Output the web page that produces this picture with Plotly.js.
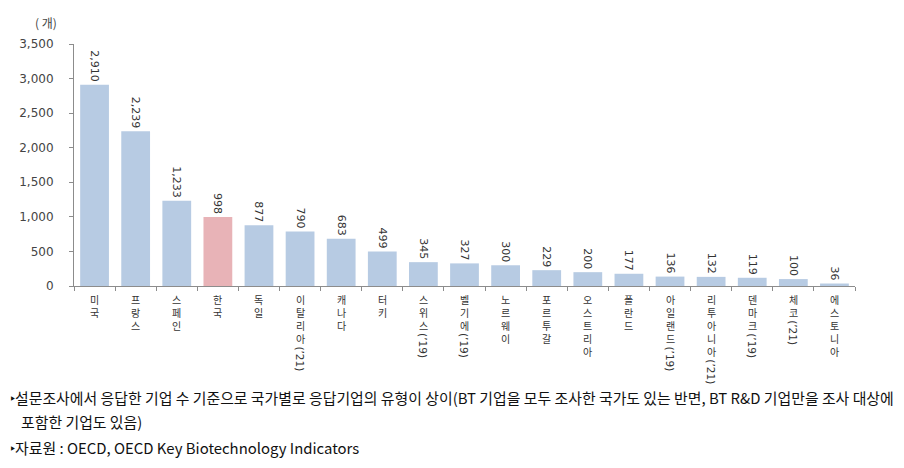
<!DOCTYPE html>
<html><head><meta charset="utf-8">
<script src="https://cdn.plot.ly/plotly-3.0.1.min.js"></script>
<style>html,body{margin:0;padding:0;background:#fff}#chart{width:904px;height:468px}</style>
</head><body><div id="chart"></div>
<script>
const countries = ['미국','프랑스','스페인','한국','독일','이탈리아','캐나다','터키','스위스','벨기에','노르웨이','포르투갈','오스트리아','폴란드','아일랜드','리투아니아','덴마크','체코','에스토니아'];
const yearNotes = ['','','','','','(’21)','','','(’19)','(’19)','','','','','(’19)','(’21)','(’19)','(’21)',''];
const values = [2910,2239,1233,998,877,790,683,499,345,327,300,229,200,177,136,132,119,100,36];
const highlight = '한국';
const yTickVals = [0,500,1000,1500,2000,2500,3000,3500];
const unitLabel = '( 개)';
const noteLine1 = '‣설문조사에서 응답한 기업 수 기준으로 국가별로 응답기업의 유형이 상이(BT 기업을 모두 조사한 국가도 있는 반면, BT R&D 기업만을 조사 대상에';
const noteLine2 = '포함한 기업도 있음)';
const noteLine3 = '‣자료원 : OECD, OECD Key Biotechnology Indicators';

const W = 904, H = 468;
const M = {l: 74, r: 49, t: 44, b: 182};
const pw = W - M.l - M.r, ph = H - M.t - M.b;
const px = x => (x - M.l) / pw;
const py = y => (H - M.b - y) / ph;

const BLUE = '#b7cbe3', PINK = '#e8b3b7';
const colors = countries.map(c => c === highlight ? PINK : BLUE);

const trace = {
  type: 'bar',
  x: countries,
  y: values,
  marker: {color: colors, line: {width: 0}},
  texttemplate: '%{y:,}',
  textposition: 'outside',
  textangle: 90,
  constraintext: 'none',
  cliponaxis: false,
  textfont: {family: 'DejaVu Sans, Verdana, sans-serif', size: 11, color: '#333'},
  hoverinfo: 'none'
};

const KFS = 10, LH = KFS * 1.3, TOP = -6;
const annotations = [];
countries.forEach((c, i) => {
  const chars = Array.from(c);
  annotations.push({
    x: c, xref: 'x', y: 0, yref: 'y', xanchor: 'center', yanchor: 'top',
    yshift: TOP, showarrow: false, borderpad: 0, borderwidth: 0,
    text: chars.join('<br>'),
    font: {family: 'Noto Sans CJK KR, sans-serif', size: KFS, color: '#333'}
  });
  if (yearNotes[i]) {
    annotations.push({
      x: c, xref: 'x', y: 0, yref: 'y', xanchor: 'center', yanchor: 'top',
      yshift: TOP - chars.length * LH - 2, showarrow: false, textangle: 90,
      borderpad: 0, borderwidth: 0,
      text: yearNotes[i],
      font: {family: 'DejaVu Sans, sans-serif', size: 10.5, color: '#333'}
    });
  }
});
annotations.push({
  x: px(33), xref: 'paper', y: py(22), yref: 'paper', xanchor: 'left', yanchor: 'middle',
  showarrow: false, text: unitLabel,
  font: {family: 'Noto Sans CJK KR, sans-serif', size: 12, color: '#444'}
});
[[noteLine1, 8, 397], [noteLine2, 19, 421], [noteLine3, 8, 447]].forEach(([t, x, y]) => {
  annotations.push({
    x: px(x), xref: 'paper', y: py(y), yref: 'paper', xanchor: 'left', yanchor: 'middle',
    showarrow: false, text: t,
    font: {family: 'Noto Sans CJK KR, sans-serif', size: 14.9, color: '#111'}
  });
});

const layout = {
  width: W, height: H,
  margin: M,
  paper_bgcolor: '#fff', plot_bgcolor: '#fff',
  showlegend: false,
  bargap: 0.3,
  xaxis: {
    type: 'category', showticklabels: false, showgrid: false, zeroline: false,
    showline: true, linecolor: '#8c8c8c', linewidth: 1,
    ticks: 'outside', tickson: 'boundaries', ticklen: 4, tickcolor: '#8c8c8c'
  },
  yaxis: {
    range: [0, 3500], autorange: false, showgrid: false, zeroline: false,
    showline: true, linecolor: '#8c8c8c', linewidth: 1,
    ticks: 'outside', ticklen: 4, tickcolor: '#8c8c8c',
    tickvals: yTickVals, tickformat: ',d',
    ticklabelstandoff: 13,
    tickfont: {family: 'DejaVu Sans, Verdana, sans-serif', size: 12, color: '#444'}
  },
  annotations: annotations
};

Plotly.newPlot('chart', [trace], layout, {displayModeBar: false, staticPlot: true});
</script>
</body></html>
